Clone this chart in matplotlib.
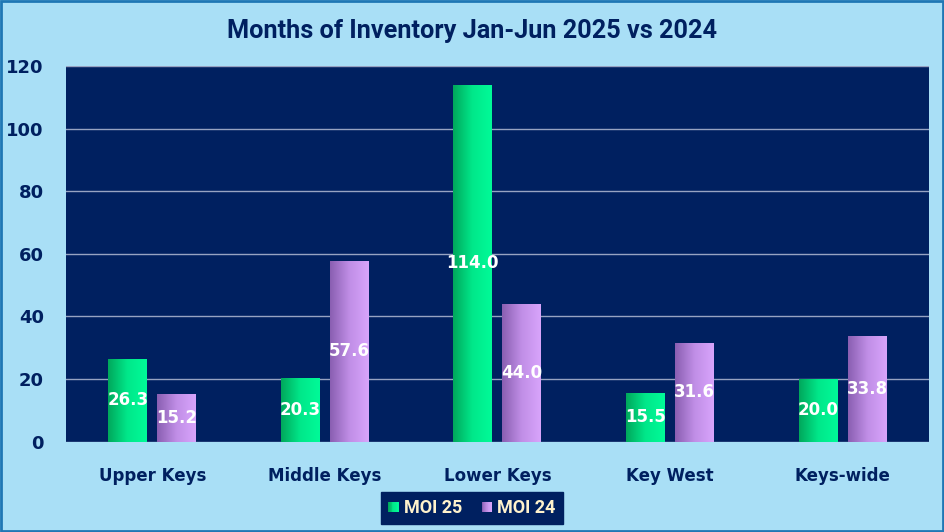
import numpy as np
import matplotlib.pyplot as plt
from matplotlib.colors import LinearSegmentedColormap
from matplotlib.patches import Rectangle
from matplotlib.legend_handler import HandlerBase

regions = ['Upper Keys', 'Middle Keys', 'Lower Keys', 'Key West', 'Keys-wide']
moi_25 = [26.3, 20.3, 114.0, 15.5, 20.0]
moi_24 = [15.2, 57.6, 44.0, 31.6, 33.8]
series_names = ['MOI 25', 'MOI 24']

NAVY = '#002060'
BG = '#a9dff6'
CREAM = '#fff2cc'
green_cmap = LinearSegmentedColormap.from_list('g', ['#00a85c', '#00e88a', '#00fa98'])
purple_cmap = LinearSegmentedColormap.from_list('p', ['#8a5fb2', '#c08ee6', '#d8a4fb'])
grad = np.linspace(0, 1, 64).reshape(1, -1)


def fill_gradient(ax, patch, cmap):
    x, y = patch.get_x(), patch.get_y()
    w, h = patch.get_width(), patch.get_height()
    im = ax.imshow(grad, cmap=cmap, extent=(x, x + w, y, y + h),
                   aspect='auto', zorder=3, interpolation='bicubic')
    im.set_clip_path(patch)
    patch.set_facecolor('none')


class GradientHandler(HandlerBase):
    def __init__(self, cmap):
        super().__init__()
        self.cmap = cmap

    def create_artists(self, legend, orig_handle, xdescent, ydescent,
                       width, height, fontsize, trans):
        side = height * 0.8
        x0 = width - side
        y0 = -ydescent + (height - side) / 2
        arts = []
        n = 12
        for i in range(n):
            r = Rectangle((x0 + side * i / n, y0), side / n + 0.3, side,
                          facecolor=self.cmap(i / (n - 1)), edgecolor='none',
                          transform=trans)
            arts.append(r)
        return arts


fig = plt.figure(figsize=(9.44, 5.32), dpi=100, facecolor=BG)
ax = fig.add_axes([0.0699, 0.170, 0.914, 0.706])
ax.set_facecolor(NAVY)

x = np.arange(len(regions))
width = 0.226
off = 0.142
bars25 = ax.bar(x - off, moi_25, width, zorder=2, label=series_names[0])
bars24 = ax.bar(x + off, moi_24, width, zorder=2, label=series_names[1])

for b in bars25:
    fill_gradient(ax, b, green_cmap)
for b in bars24:
    fill_gradient(ax, b, purple_cmap)

for bars, vals in ((bars25, moi_25), (bars24, moi_24)):
    for b, v in zip(bars, vals):
        ax.text(b.get_x() + b.get_width() / 2, v / 2, f'{v:.1f}',
                ha='center', va='center', color='white', fontsize=12,
                fontweight='bold', zorder=5)

ax.set_xlim(-0.5, len(regions) - 0.5)
ax.set_ylim(0, 120)
ax.set_yticks(range(0, 121, 20))
ax.yaxis.grid(True, color='#97a3c2', linewidth=1, zorder=1)
ax.set_axisbelow(True)
for s in ax.spines.values():
    s.set_visible(False)
ax.tick_params(axis='both', length=0, colors=NAVY, labelsize=12)
ax.tick_params(axis='y', pad=16, labelsize=13)
ax.tick_params(axis='x', pad=18)
ax.set_xticks(x)
ax.set_xticklabels(regions)
for lbl in ax.get_xticklabels() + ax.get_yticklabels():
    lbl.set_fontweight('bold')
    lbl.set_color(NAVY)

fig.text(0.5, 0.942, 'Months of Inventory Jan-Jun 2025 vs 2024', ha='center',
         va='center', fontsize=18.2, fontweight='bold', color=NAVY,
         family='Roboto')

leg = ax.legend(handles=[bars25, bars24], labels=series_names,
                handler_map={bars25: GradientHandler(green_cmap),
                             bars24: GradientHandler(purple_cmap)},
                loc='center', bbox_to_anchor=(0.5, 0.045),
                bbox_transform=fig.transFigure, ncol=2, frameon=True,
                fancybox=False, framealpha=1, facecolor=NAVY, edgecolor=NAVY,
                prop={'weight': 'bold', 'size': 13, 'family': 'Roboto'},
                handlelength=0.55, handletextpad=0.3, columnspacing=1.1,
                borderpad=0.4)
for t in leg.get_texts():
    t.set_color(CREAM)

fig.patches.append(Rectangle((0.001, 0.001), 0.998, 0.997, transform=fig.transFigure,
                             fill=False, edgecolor='#1f77b4', linewidth=2))

fig.savefig('out.png', dpi=100, facecolor=BG)
